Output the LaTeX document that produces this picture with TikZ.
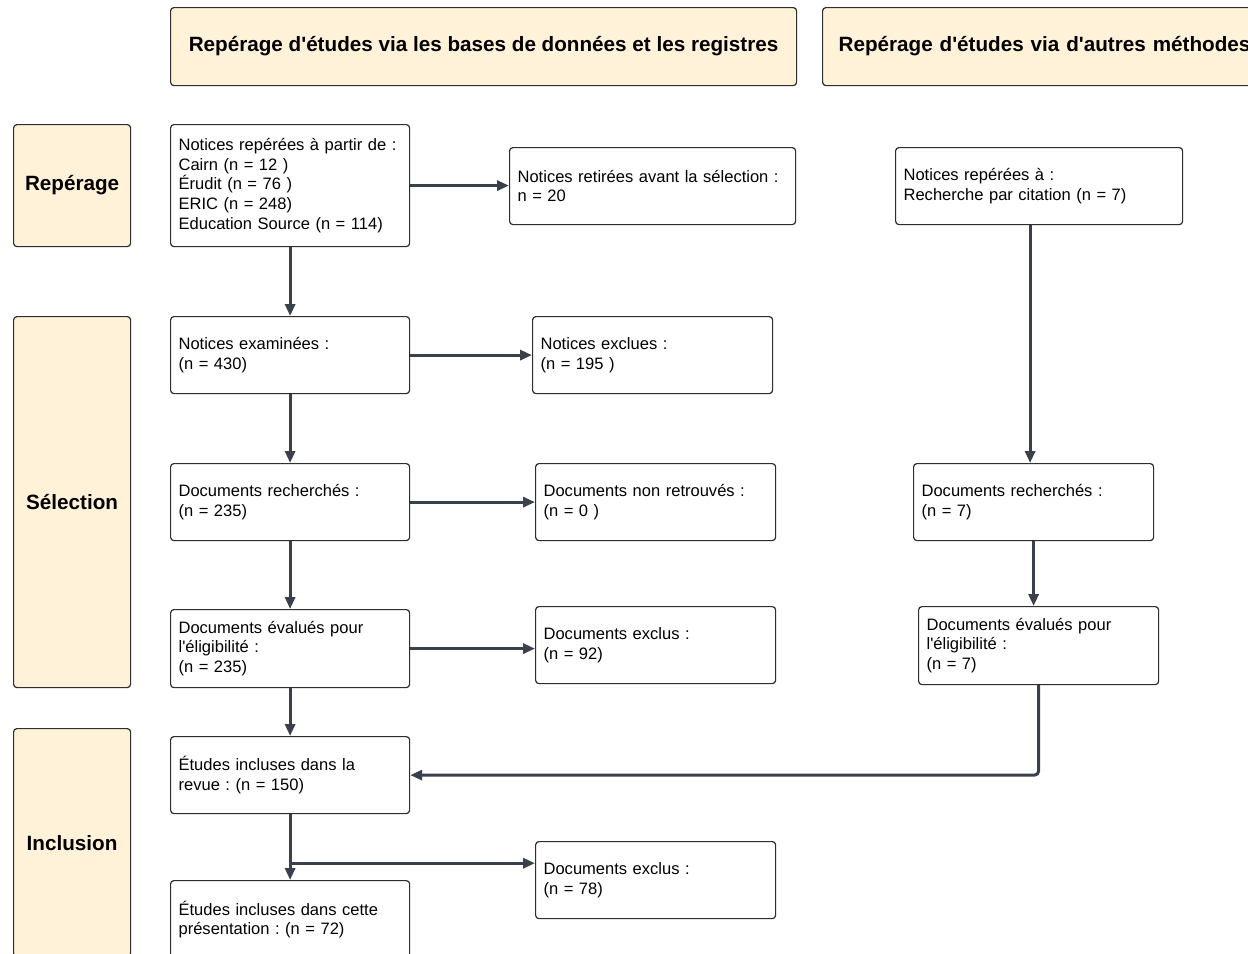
\documentclass[tikz,border=0pt]{standalone}
\usepackage{fontspec}
\setmainfont{Liberation Sans}
\usetikzlibrary{arrows.meta,calc}
\definecolor{cream}{HTML}{FFF2D8}
\definecolor{edgec}{HTML}{3A404C}
\definecolor{bord}{HTML}{2E2E2E}
\frenchspacing
\newcommand{\q}{\textquotesingle}
\begin{document}
\begin{tikzpicture}[x=0.75pt,y=-0.75pt,
  box/.style={draw=bord, line width=0.9pt, rounded corners=2.5pt, fill=white, anchor=north west, align=left, inner xsep=6pt, inner ysep=0pt, font=\fontsize{12.4}{14.8}\selectfont},
  head/.style={draw=bord, line width=0.9pt, rounded corners=2.5pt, fill=cream, anchor=north west, align=center, inner sep=0pt, font=\fontsize{15.5}{18}\selectfont\bfseries},
  arr/.style={draw=edgec, line width=2.25pt, -{Triangle[length=9pt,width=7.5pt]}},
  lin/.style={draw=edgec, line width=2.25pt}
]
\useasboundingbox (0,0) rectangle (1248,953);
\clip (0,0) rectangle (1248,953);
\fill[white] (0,0) rectangle (1248,953);

% headers
\node[head, minimum width=469.5pt, minimum height=58.5pt] (H1) at (170,7) {Repérage d\q études via les bases de données et les registres};
\node[head, align=left, text width=312pt, inner xsep=12pt, minimum height=58.5pt] (H2) at (822,7) {Repérage d\q études via d\q autres méthodes};

% side labels
\node[head, minimum width=87.75pt, minimum height=91.5pt] (S1) at (13,124) {Repérage};
\node[head, minimum width=87.75pt, minimum height=278.25pt] (S2) at (13,316) {Sélection};
\node[head, minimum width=87.75pt, minimum height=171pt] (S3) at (13,728) {Inclusion};

% boxes
\node[box, text width=167.25pt, minimum height=91.5pt] (A) at (170,124) {Notices repérées à partir de~:\\Cairn (n = 12 )\\Érudit (n = 76 )\\ERIC (n = 248)\\Education Source (n = 114)};
\node[box, text width=202.5pt, minimum height=57.75pt] (B) at (509,147) {Notices retirées avant la sélection~:\\n = 20};
\node[box, text width=203.25pt, minimum height=57.75pt] (C) at (895,147) {Notices repérées à~:\\Recherche par citation (n = 7)};
\node[box, text width=167.25pt, minimum height=57.75pt] (D) at (170,316) {Notices examinées~:\\(n = 430)};
\node[box, text width=168pt, minimum height=57.75pt] (E) at (532,316) {Notices exclues~:\\(n = 195 )};
\node[box, text width=167.25pt, minimum height=57.75pt] (F) at (170,463) {Documents recherchés~:\\(n = 235)};
\node[box, text width=168pt, minimum height=57.75pt] (G) at (535,463) {Documents non retrouvés~:\\(n = 0 )};
\node[box, text width=168pt, minimum height=57.75pt] (H) at (913,463) {Documents recherchés~:\\(n = 7)};
\node[box, text width=167.25pt, minimum height=58.5pt] (I) at (170,609) {Documents évalués pour\\l\q éligibilité~:\\(n = 235)};
\node[box, text width=168pt, minimum height=57.75pt] (J) at (535,606) {Documents exclus~:\\(n = 92)};
\node[box, text width=168pt, minimum height=58.5pt] (K) at (918,606) {Documents évalués pour\\l\q éligibilité~:\\(n = 7)};
\node[box, text width=167.25pt, minimum height=57.75pt] (L) at (170,736) {Études incluses dans la\\revue~: (n = 150)};
\node[box, text width=168pt, minimum height=57.75pt] (M) at (535,841) {Documents exclus~:\\(n = 78)};
\node[box, text width=167.25pt, minimum height=58.5pt] (N) at (170,880) {Études incluses dans cette\\présentation~: (n = 72)};

% connectors
\draw[arr] (A.east) -- (A.east -| B.west);
\draw[arr] (A.south) -- (D.north);
\draw[arr] (D.east) -- (D.east -| E.west);
\draw[arr] (D.south) -- (F.north);
\draw[arr] (F.east) -- (F.east -| G.west);
\draw[arr] (F.south) -- (I.north);
\draw[arr] (I.east) -- (I.east -| J.west);
\draw[arr] (I.south) -- (L.north);
\draw[arr] (L.south) -- (N.north);
\coordinate (br) at ($(L.south)+(0,49)$);
\draw[arr] (br) -- (br -| M.west);
\coordinate (cs) at ($(C.south)+(-9,0)$);
\draw[arr] (cs) -- (cs |- H.north);
\draw[arr] (H.south) -- (H.south |- K.north);
\draw[arr, rounded corners=3pt] (K.south) |- (L.east);
\end{tikzpicture}
\end{document}
